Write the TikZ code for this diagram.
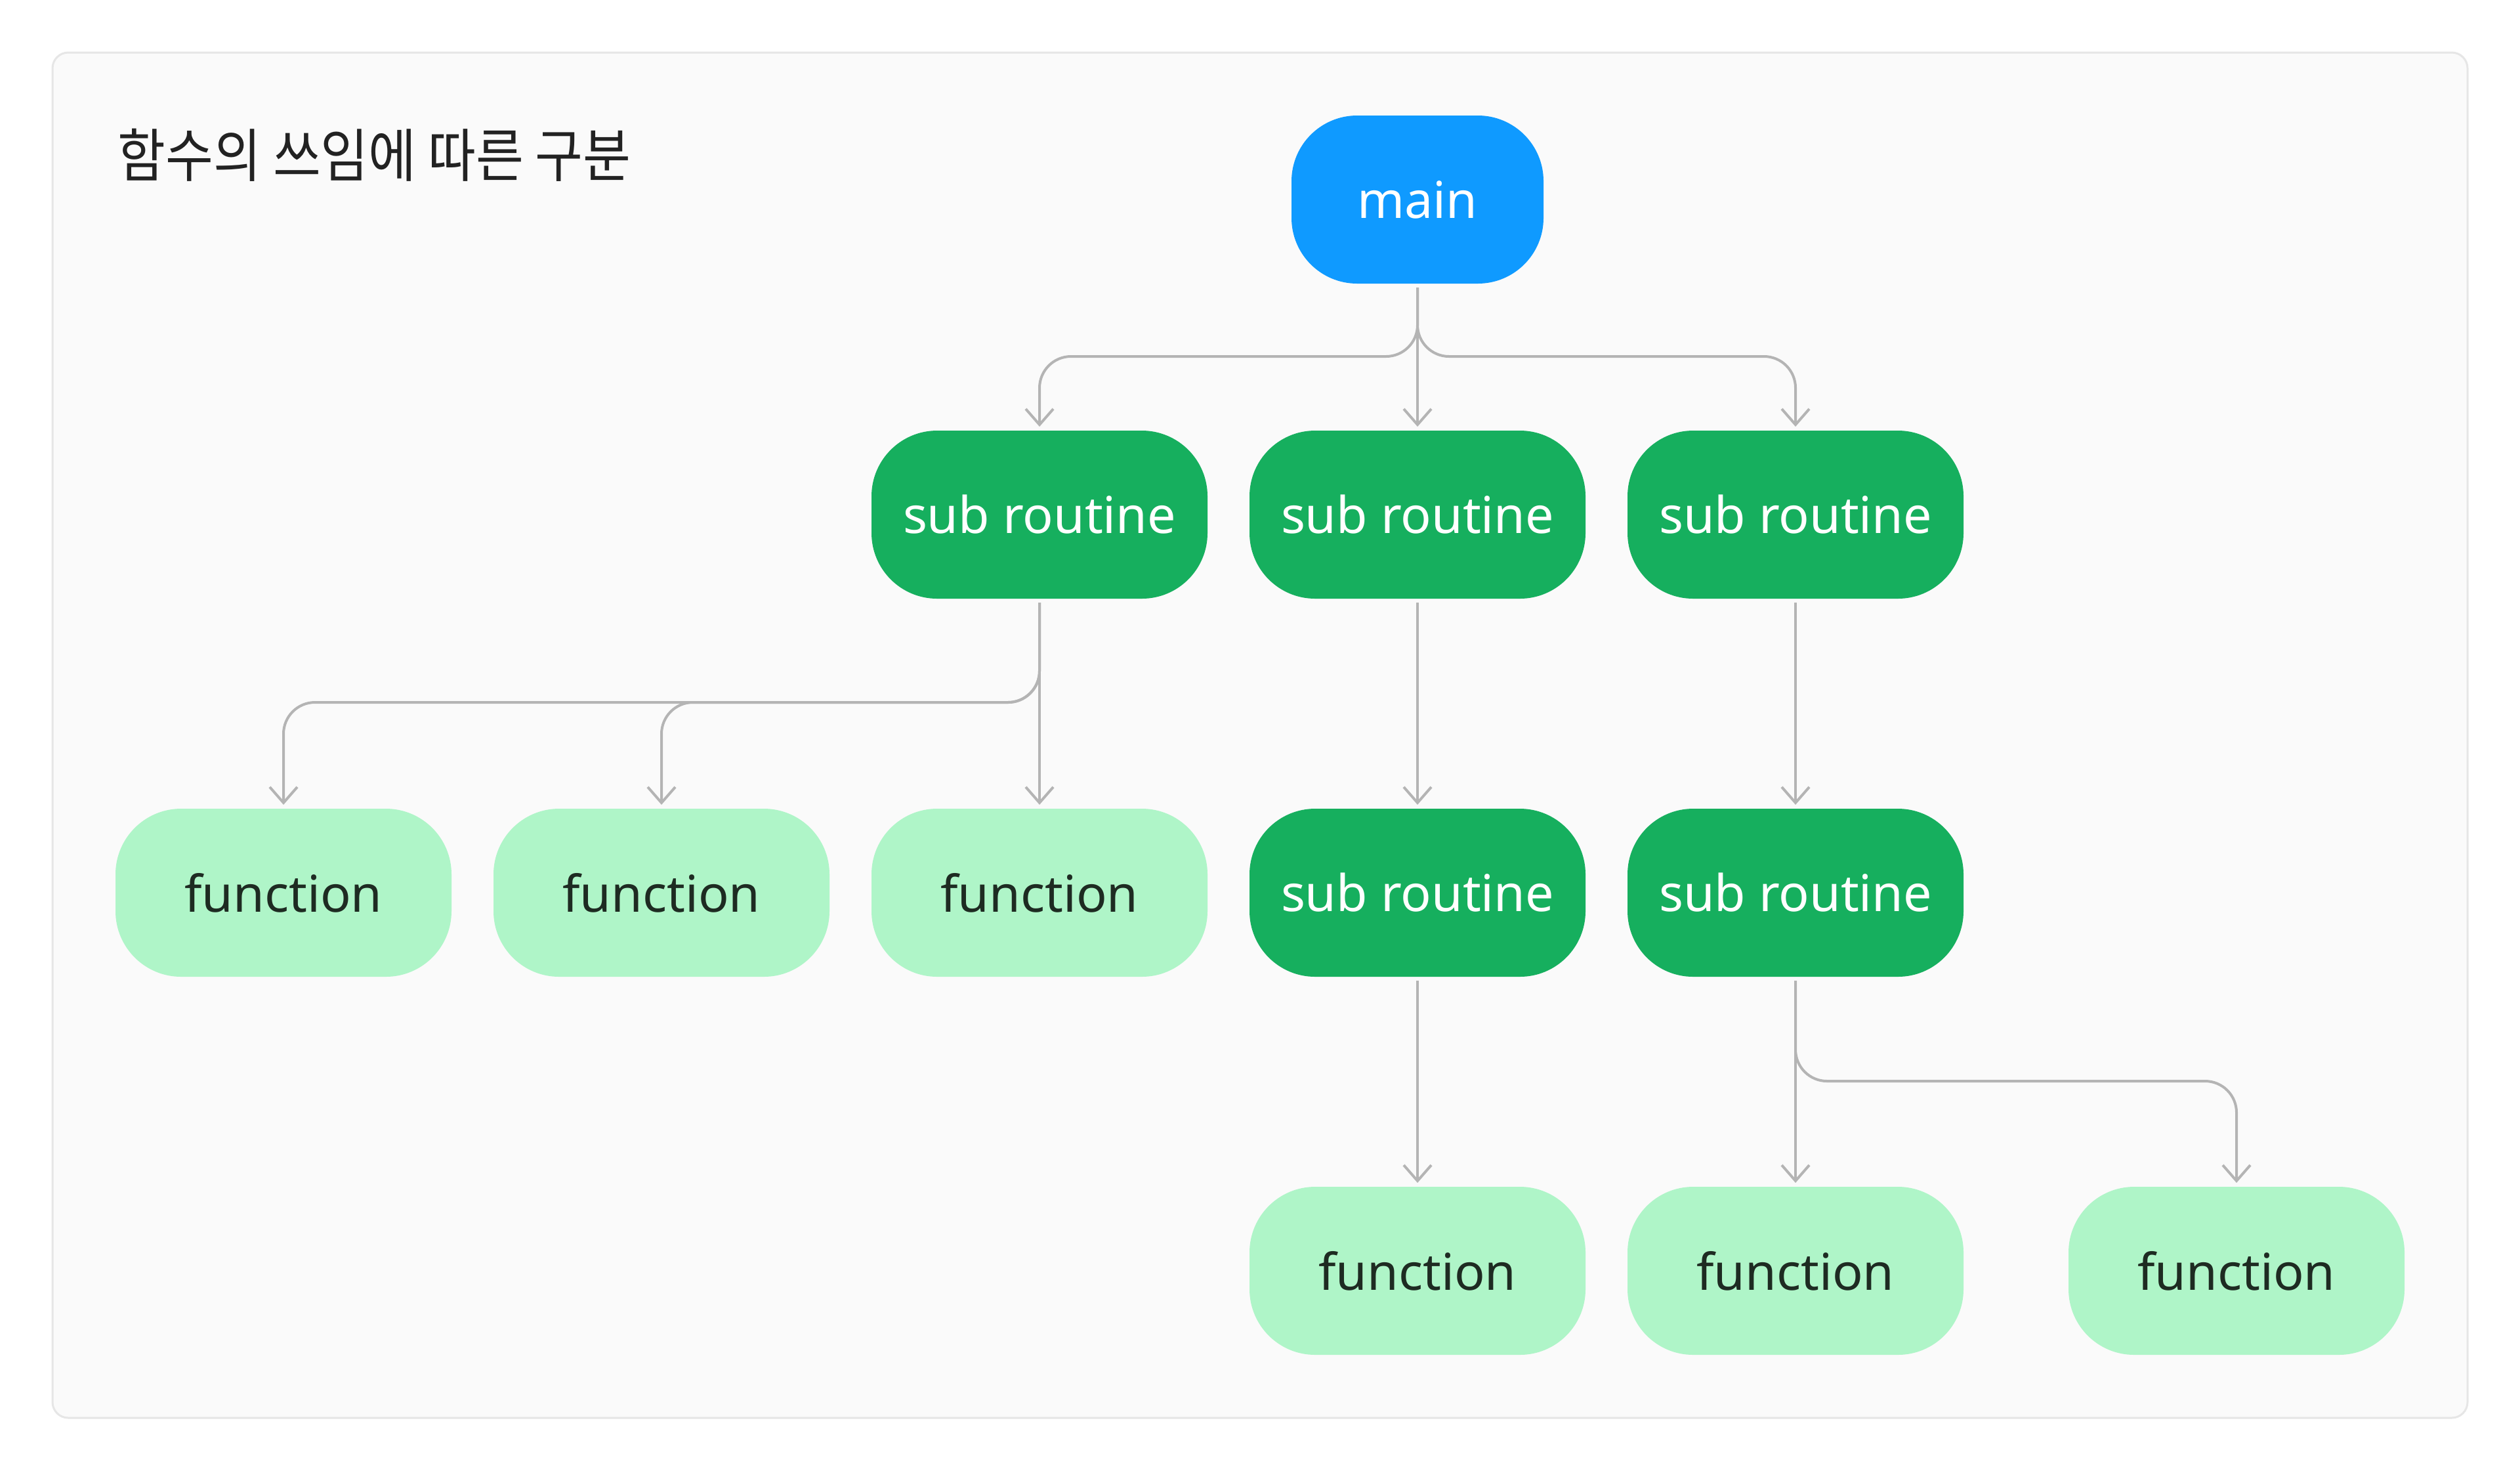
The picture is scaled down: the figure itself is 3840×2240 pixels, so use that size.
\documentclass[tikz,border=0pt]{standalone}
\usepackage{fontspec}
\setmainfont{Noto Sans}
\newfontfamily\krfont[FakeStretch=0.9]{Noto Sans CJK KR}
\usetikzlibrary{arrows.meta}
\definecolor{framefill}{HTML}{FAFAFA}
\definecolor{framedraw}{HTML}{E6E6E6}
\definecolor{mainblue}{HTML}{0F9AFF}
\definecolor{subgreen}{HTML}{16AF5E}
\definecolor{fungreen}{HTML}{AFF5C8}
\definecolor{funtext}{HTML}{1E2B22}
\definecolor{conncol}{HTML}{B4B4B4}
\definecolor{titlecol}{HTML}{222222}
\tikzset{
  box/.style={rectangle, rounded corners=25pt, minimum height=64pt, inner sep=0pt, outer sep=1.5pt, font=\fontsize{19.3}{23}\selectfont},
  mainbox/.style={box, fill=mainblue, text=white, minimum width=96pt},
  subbox/.style={box, fill=subgreen, text=white, minimum width=128pt},
  funbox/.style={box, fill=fungreen, text=funtext, minimum width=128pt},
  conn/.style={draw=conncol, line width=1pt, rounded corners=12pt, -{Straight Barb[length=6pt,width=10.5pt]}},
}
\begin{document}
\begin{tikzpicture}[x=0.25pt,y=-0.25pt]
\useasboundingbox (0,0) rectangle (3840,2240);
\fill[white] (0,0) rectangle (3840,2240);
\draw[fill=framefill, draw=framedraw, line width=0.75pt, rounded corners=6pt] (80,80) rectangle (3760,2160);
\node[anchor=west, inner sep=0pt, text=titlecol, font=\krfont\fontsize{22}{26}\selectfont] (title) at (179,236) {함수의 쓰임에 따른 구분};
% nodes
\node[mainbox] (main) at (2160,304) {main};
\node[subbox] (s1) at (1584,784) {sub routine};
\node[subbox] (s2) at (2160,784) {sub routine};
\node[subbox] (s3) at (2736,784) {sub routine};
\node[funbox] (fa) at (432,1360) {function};
\node[funbox] (fb) at (1008,1360) {function};
\node[funbox] (fc) at (1584,1360) {function};
\node[subbox] (s4) at (2160,1360) {sub routine};
\node[subbox] (s5) at (2736,1360) {sub routine};
\node[funbox] (g1) at (2160,1936) {function};
\node[funbox] (g2) at (2736,1936) {function};
\node[funbox] (g3) at (3408,1936) {function};
% bus coordinates
\coordinate (busA) at (2160,543);
\coordinate (busB) at (1584,1070);
\coordinate (busC) at (2736,1647);
% connectors
\draw[conn] (main.south) -- (busA) -| (s1.north);
\draw[conn] (main.south) -- (busA) -| (s3.north);
\draw[conn] (main) -- (s2);
\draw[conn] (s1.south) -- (busB) -| (fa.north);
\draw[conn] (s1.south) -- (busB) -| (fb.north);
\draw[conn] (s1) -- (fc);
\draw[conn] (s2) -- (s4);
\draw[conn] (s3) -- (s5);
\draw[conn] (s4) -- (g1);
\draw[conn] (s5) -- (g2);
\draw[conn] (s5.south) -- (busC) -| (g3.north);
\end{tikzpicture}
\end{document}
